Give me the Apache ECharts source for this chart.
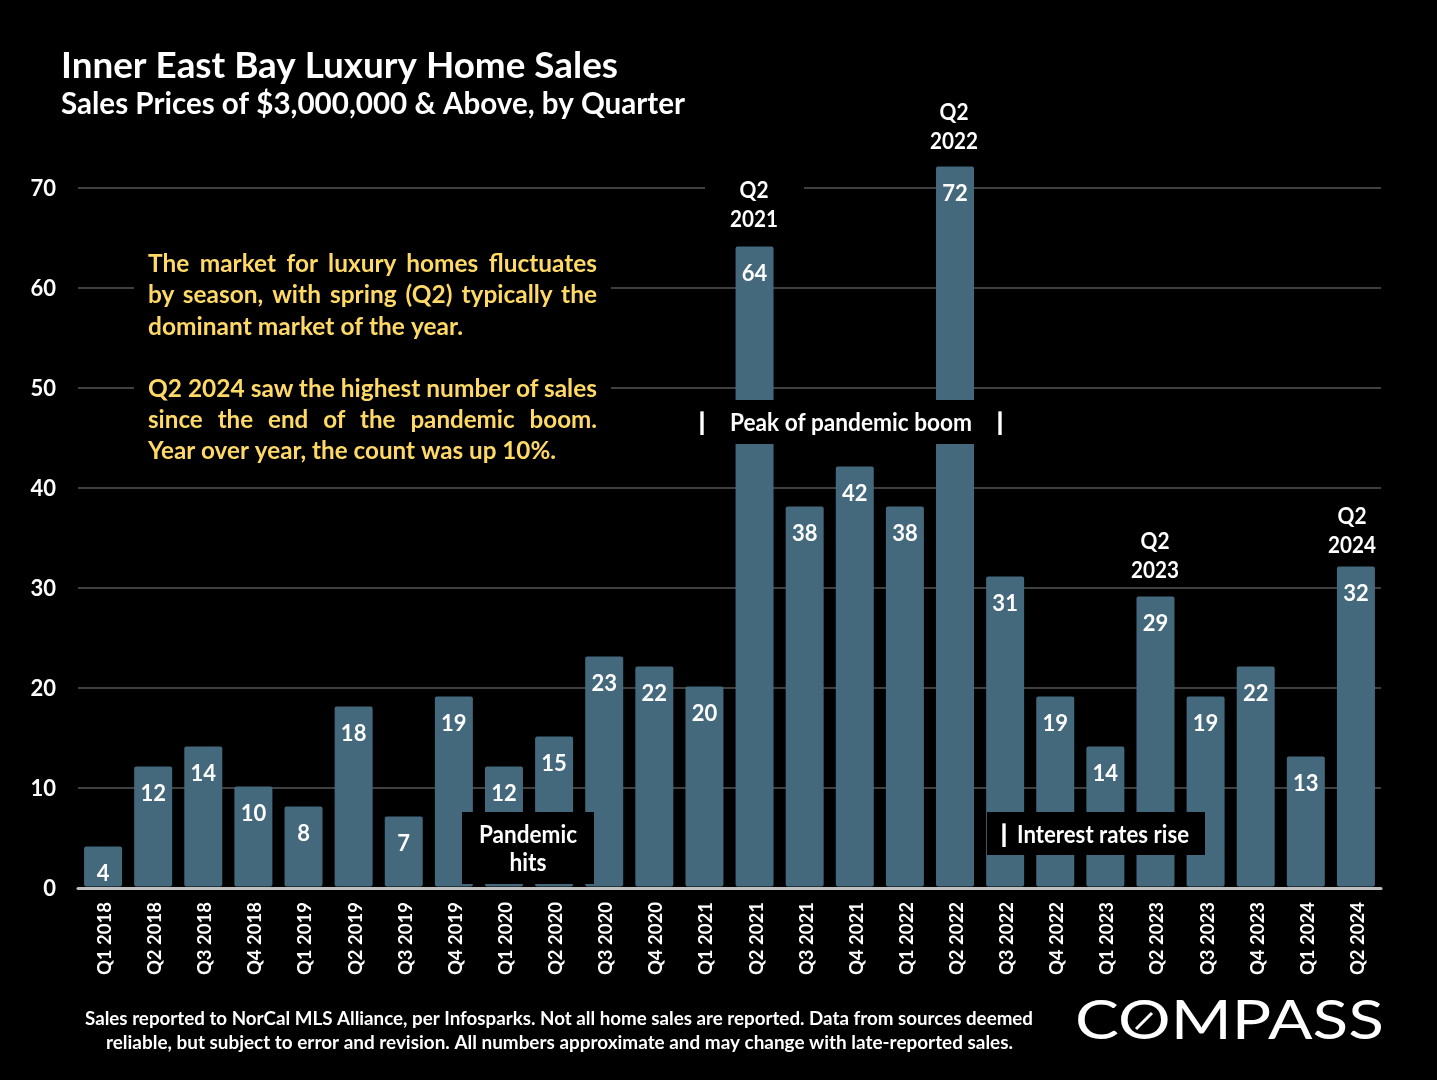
<!DOCTYPE html>
<html>
<head>
<meta charset="utf-8">
<title>Inner East Bay Luxury Home Sales</title>
<script src="https://cdn.jsdelivr.net/npm/echarts@6/dist/echarts.min.js"></script>
<style>
  html, body { margin: 0; padding: 0; background: #000; }
  #chart { width: 1437px; height: 1080px; }
</style>
</head>
<body>
<div id="chart"></div>
<script>
const quarters = ['Q1 2018','Q2 2018','Q3 2018','Q4 2018','Q1 2019','Q2 2019','Q3 2019','Q4 2019','Q1 2020','Q2 2020','Q3 2020','Q4 2020','Q1 2021','Q2 2021','Q3 2021','Q4 2021','Q1 2022','Q2 2022','Q3 2022','Q4 2022','Q1 2023','Q2 2023','Q3 2023','Q4 2023','Q1 2024','Q2 2024']
const sales = [4,12,14,10,8,18,7,19,12,15,23,22,20,64,38,42,38,72,31,19,14,29,19,22,13,32]
const noteFirst = ['The market for luxury homes fluctuates', 'by season, with spring (Q2) typically the', 'dominant market of the year.']
const noteSecond = ['Q2 2024 saw the highest number of sales', 'since the end of the pandemic boom.', 'Year over year, the count was up 10%.']
const footnote = ['Sales reported to NorCal MLS Alliance, per Infosparks. Not all home sales are reported. Data from sources deemed', 'reliable, but subject to error and revision. All numbers approximate and may change with late-reported sales.']

const FONT = 'Lato, "Noto Sans", sans-serif'
const WHITE = '#ffffff'
const YELLOW = '#ffd966'
const BAR = '#44687c'

const ctx = document.createElement('canvas').getContext('2d')
const measure = (text, font) => {
    ctx.font = font
    return ctx.measureText(text).width
}

// text squeezed to the width it has in the picture (Calibri runs narrower than Lato)
const fitted = (text, x, y, size, width, fill = WHITE, align = 'left', weight = 'bold') => {
    const font = `${weight} ${size}px ${FONT}`
    return {
        type: 'text', x, y: y + 1, z: 20, scaleX: width / measure(text, font),
        style: { text, font, fill, align, verticalAlign: 'middle' }
    }
}

// widen the gaps with hair spaces until the line nearly fills the column
const justified = (line, width, font) => {
    const words = line.split(' ')
    const extra = width - measure(line, font)
    const hair = measure('\u200a', font)
    const count = Math.max(0, Math.round(extra / (words.length - 1) / hair))
    return words.join('\u00a0' + '\u200a'.repeat(count))
}

const mask = (x, y, width, height) => ({
    type: 'rect', z: 10, shape: { x, y, width, height }, style: { fill: '#000' }
})

const noteFont = `bold 25px ${FONT}`
const fullLine = (text, y) => fitted(justified(text, 449 / 0.975, noteFont), 148, y, 25, 449, YELLOW)

const peakLabel = (x, y, year) => [
    fitted('Q2', x, y, 23, 29, WHITE, 'center'),
    fitted(year, x, y + 29, 23, 48, WHITE, 'center')
]

const graphics = [
    mask(134, 245, 477, 225),
    mask(705, 175, 99, 60),
    mask(695, 400, 315, 44),
    mask(462, 812, 132, 72),
    mask(987, 812, 218, 43),
    mask(1106, 528, 99, 54),

    fitted('Inner East Bay Luxury Home Sales', 61, 65, 36, 557),
    fitted('Sales Prices of $3,000,000 & Above, by Quarter', 61, 103, 30, 624),

    fullLine(noteFirst[0], 263),
    fullLine(noteFirst[1], 294),
    fitted(noteFirst[2], 148, 326, 25, 315, YELLOW),
    fullLine(noteSecond[0], 388),
    fullLine(noteSecond[1], 419),
    fitted(noteSecond[2], 148, 450, 25, 408, YELLOW),

    ...peakLabel(754, 190, '2021'),
    ...peakLabel(954, 112, '2022'),
    ...peakLabel(1155, 541, '2023'),
    ...peakLabel(1352, 516, '2024'),

    fitted('|', 702, 422, 24, 9, WHITE, 'center'),
    fitted('Peak of pandemic boom', 730, 422, 24, 242),
    fitted('|', 1000, 422, 24, 9, WHITE, 'center'),
    fitted('Pandemic', 528, 834, 24, 98, WHITE, 'center'),
    fitted('hits', 528, 862, 24, 37, WHITE, 'center'),
    fitted('|', 1004, 834, 24, 9, WHITE, 'center'),
    fitted('Interest rates rise', 1017, 834, 24, 172),

    fitted(footnote[0], 85, 1018, 19, 948),
    fitted(footnote[1], 106, 1042, 19, 907),

    fitted('COMPASS', 1075, 1020, 55, 309, WHITE, 'left', 400),
    {
        type: 'line', z: 21,
        shape: { x1: 1136, y1: 1029, x2: 1152, y2: 1013 },
        style: { stroke: WHITE, lineWidth: 3 }
    }
]

const chart = echarts.init(document.getElementById('chart'))
chart.setOption({
    backgroundColor: '#000',
    animation: false,
    grid: { left: 78, right: 56, top: 88, bottom: 192 },
    xAxis: {
        type: 'category',
        data: quarters,
        z: 5,
        axisLine: { lineStyle: { color: '#bfbfbf', width: 3 } },
        axisTick: { show: false },
        axisLabel: {
            rotate: 90, interval: 0, margin: 14, color: WHITE,
            formatter: '{q|{value}}',
            rich: { q: { padding: [4, 0, 0, 0], color: WHITE, fontFamily: FONT, fontWeight: 'bold', fontSize: 18.5 } }
        }
    },
    yAxis: [{
        type: 'value',
        min: 0,
        max: 80,
        interval: 10,
        axisLine: { show: false },
        axisTick: { show: false },
        axisLabel: {
            showMaxLabel: false, margin: 22, color: WHITE,
            formatter: '{n|{value}}',
            rich: { n: { padding: [2, 0, 0, 0], color: WHITE, fontFamily: FONT, fontWeight: 'bold', fontSize: 22 } }
        },
        splitLine: { showMaxLine: false, lineStyle: { color: '#404040', width: 2 } }
    }, {
        // the bars sit a touch above the gridlines in the picture
        type: 'value', show: false, min: -0.15, max: 79.85, splitLine: { show: false }
    }],
    series: [{
        type: 'bar',
        data: sales,
        yAxisIndex: 1,
        barWidth: 38,
        itemStyle: { color: BAR, borderRadius: 2 },
        label: {
            show: true, position: 'insideTop', distance: 16.5, color: WHITE,
            fontFamily: FONT, fontWeight: 'bold', fontSize: 22
        }
    }],
    graphic: graphics
})
</script>
</body>
</html>
